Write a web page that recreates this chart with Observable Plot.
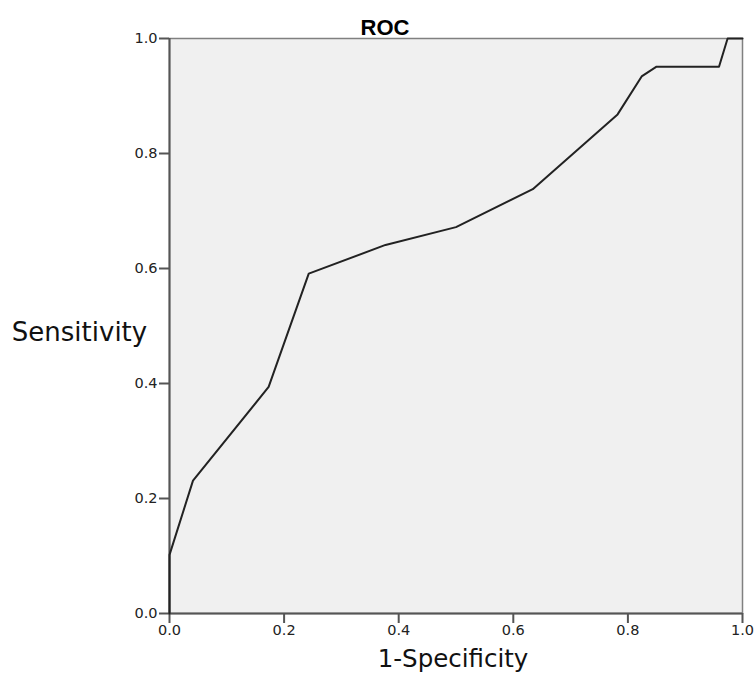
<!DOCTYPE html>
<html>
<head>
<meta charset="utf-8">
<script src="https://cdn.jsdelivr.net/npm/d3@7"></script>
<script src="https://cdn.jsdelivr.net/npm/@observablehq/plot@0.6"></script>
<style>
  body { margin: 0; background: #fff; }
</style>
</head>
<body>
<div id="chart"></div>
<script>
const fpr = [0, 0, 0.041, 0.173, 0.243, 0.377, 0.500, 0.634, 0.782, 0.824, 0.850, 0.959, 0.974, 1.0];
const tpr = [0, 0.102, 0.231, 0.394, 0.591, 0.641, 0.672, 0.738, 0.868, 0.934, 0.951, 0.951, 1.0, 1.0];
const tickValues = [0, 0.2, 0.4, 0.6, 0.8, 1.0];
const title = "ROC";
const xLabel = "1-Specificity";
const yLabel = "Sensitivity";

const fmt = d3.format(".1f");
const font = "'DejaVu Sans', Verdana, sans-serif";

const chart = Plot.plot({
  width: 754,
  height: 674,
  marginLeft: 169,
  marginRight: 12,
  marginTop: 38,
  marginBottom: 61,
  style: { fontFamily: font, fontSize: "14px", color: "#333", background: "#fff" },
  x: { domain: [0, 1], label: null },
  y: { domain: [0, 1], label: null },
  marks: [
    Plot.frame({ fill: "#f0f0f0", stroke: "#808080", strokeWidth: 1.5 }),
    Plot.axisX({ ticks: tickValues, tickFormat: () => "", tickSize: 10, stroke: "#555", strokeWidth: 2, label: null }),
    Plot.axisY({ ticks: tickValues, tickFormat: () => "", tickSize: 10, stroke: "#555", strokeWidth: 2, label: null }),
    Plot.text(tickValues, { x: d => d, frameAnchor: "bottom", dy: 21, text: fmt, fontSize: 14.5, fill: "#222" }),
    Plot.text(tickValues, { y: d => d, frameAnchor: "left", textAnchor: "end", dx: -12, text: fmt, fontSize: 14.5, fill: "#222" }),
    Plot.ruleY([0], { stroke: "#555", strokeWidth: 2 }),
    Plot.ruleX([0], { stroke: "#555", strokeWidth: 2 }),
    Plot.line({ length: fpr.length }, { x: fpr, y: tpr, stroke: "#222", strokeWidth: 2, curve: "linear" }),
    Plot.text([title], { frameAnchor: "top", dx: -71, dy: -19, fontSize: 22, fontWeight: "bold", fontFamily: "'Liberation Sans', Arial, sans-serif", fill: "#000", text: d => d }),
    Plot.text([xLabel], { frameAnchor: "bottom", dx: -3, dy: 53, fontSize: 24.5, fill: "#111", text: d => d }),
    Plot.text([yLabel], { frameAnchor: "left", dx: -90, dy: 7, textAnchor: "middle", fontSize: 26, fill: "#111", text: d => d })
  ]
});
document.getElementById("chart").appendChild(chart);
</script>
</body>
</html>
